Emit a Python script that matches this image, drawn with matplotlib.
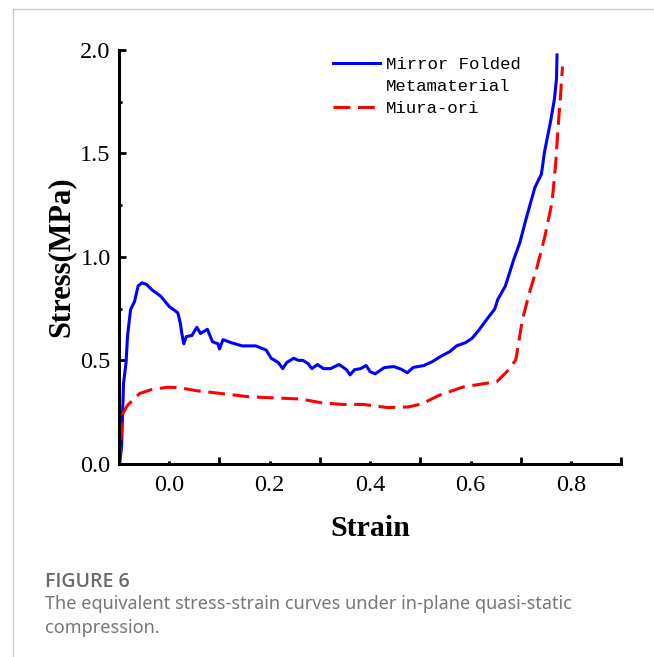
import matplotlib
matplotlib.use("Agg")
import matplotlib.pyplot as plt
from matplotlib.lines import Line2D
import numpy as np

plt.rcParams['font.family'] = ['Liberation Serif', 'DejaVu Serif']

# Mirror Folded Metamaterial (strain, stress MPa)
mirror_strain = [-0.099, -0.095, -0.091, -0.086, -0.083, -0.077, -0.069, -0.062, -0.054, -0.045,
                 -0.034, -0.017, 0.0, 0.017, 0.022, 0.025, 0.029, 0.034, 0.045, 0.055,
                 0.062, 0.076, 0.086, 0.097, 0.100, 0.107, 0.124, 0.145, 0.172, 0.193,
                 0.203, 0.217, 0.226, 0.234, 0.248, 0.257, 0.266, 0.276, 0.284, 0.295,
                 0.307, 0.321, 0.338, 0.353, 0.360, 0.369, 0.381, 0.392, 0.400, 0.410,
                 0.428, 0.447, 0.462, 0.474, 0.486, 0.507, 0.524, 0.541, 0.559, 0.572,
                 0.590, 0.603, 0.617, 0.634, 0.648, 0.654, 0.669, 0.686, 0.698, 0.710,
                 0.728, 0.741, 0.747, 0.759, 0.767, 0.771, 0.772]
mirror_stress = [0.0, 0.08, 0.39, 0.49, 0.62, 0.745, 0.785, 0.86, 0.875, 0.866,
                 0.84, 0.81, 0.76, 0.73, 0.68, 0.63, 0.58, 0.615, 0.62, 0.66,
                 0.63, 0.65, 0.59, 0.58, 0.555, 0.60, 0.585, 0.57, 0.57, 0.55,
                 0.51, 0.49, 0.46, 0.49, 0.51, 0.50, 0.50, 0.485, 0.46, 0.48,
                 0.46, 0.46, 0.48, 0.455, 0.43, 0.455, 0.46, 0.475, 0.445, 0.435,
                 0.465, 0.47, 0.457, 0.44, 0.466, 0.475, 0.494, 0.52, 0.543, 0.57,
                 0.586, 0.607, 0.648, 0.704, 0.748, 0.794, 0.858, 0.988, 1.069, 1.18,
                 1.336, 1.40, 1.506, 1.652, 1.765, 1.862, 1.976]

# Miura-ori
miura_strain = [-0.099, -0.097, -0.093, -0.083, -0.059, -0.034, -0.003, 0.021, 0.055, 0.103,
                0.159, 0.207, 0.262, 0.303, 0.345, 0.386, 0.434, 0.476, 0.503, 0.538,
                0.586, 0.652, 0.672, 0.690, 0.703, 0.717, 0.731, 0.748, 0.762, 0.769,
                0.774, 0.779, 0.783]
miura_stress = [0.0, 0.08, 0.24, 0.283, 0.34, 0.36, 0.37, 0.368, 0.353, 0.34,
                0.324, 0.319, 0.313, 0.295, 0.287, 0.287, 0.272, 0.275, 0.29, 0.332,
                0.372, 0.397, 0.445, 0.502, 0.696, 0.826, 0.939, 1.10, 1.263, 1.44,
                1.62, 1.78, 1.92]

xticks = [0.0, 0.2, 0.4, 0.6, 0.8]
yticks = [0.0, 0.5, 1.0, 1.5, 2.0]

fig = plt.figure(figsize=(6.54, 6.57), dpi=100)
ax = fig.add_axes([0.182, 0.294, 0.768, 0.630])

blue, = ax.plot(mirror_strain, mirror_stress, color='#0000ff', lw=2.2,
                label='Mirror Folded')
red, = ax.plot(miura_strain, miura_stress, color='#ff0000', lw=2.2,
               dashes=(5.5, 2.5), label='Miura-ori')

ax.set_xlim(-0.1, 0.9)
ax.set_ylim(0, 2.0)
ax.set_xticks(xticks)
ax.set_xticklabels(['%.1f' % v for v in xticks])
ax.set_xticks([0.1, 0.3, 0.5, 0.7, 0.9], minor=True)
ax.set_yticks(yticks)
ax.set_yticklabels(['%.1f' % v for v in yticks])
ax.set_yticks([0.25, 0.75, 1.25, 1.75], minor=True)

for s in ['top', 'right']:
    ax.spines[s].set_visible(False)
for s in ['left', 'bottom']:
    ax.spines[s].set_linewidth(2.2)

ax.tick_params(axis='x', which='major', direction='in', length=2, width=2.2,
               labelsize=17.5, pad=8)
ax.tick_params(axis='x', which='minor', direction='in', length=5, width=2)
ax.tick_params(axis='y', which='major', direction='in', length=5, width=2,
               labelsize=17.5, pad=6)
ax.tick_params(axis='y', which='minor', direction='in', length=2, width=2)

ax.set_xlabel('Strain', fontsize=21.5, fontweight='bold', labelpad=14)
ax.set_ylabel('Stress(MPa)', fontsize=22, fontweight='bold', labelpad=3)

blank = Line2D([], [], linestyle='none')
ax.legend([blue, blank, red], ['Mirror Folded', 'Metamaterial', 'Miura-ori'],
          loc='upper left', bbox_to_anchor=(0.426, 0.983), frameon=False,
          prop={'family': 'Liberation Mono', 'size': 12.5},
          handlelength=2.7, handletextpad=0.35, labelspacing=0.38,
          borderaxespad=0, borderpad=0)

# page frame and caption
fig.add_artist(Line2D([13 / 654, 1], [1 - 9 / 657, 1 - 9 / 657], color='#cccccc', lw=1))
fig.add_artist(Line2D([13 / 654, 13 / 654], [0, 1 - 9 / 657], color='#cccccc', lw=1))
fig.text(45 / 654, 1 - 587 / 657, 'FIGURE 6', family=['Open Sans', 'Noto Sans'],
         fontsize=14, fontweight='semibold', color='#6b6b6b', va='baseline')
fig.text(45 / 654, 1 - 609 / 657,
         'The equivalent stress-strain curves under in-plane quasi-static',
         family='Noto Sans', fontsize=13, color='#777777', va='baseline')
fig.text(45 / 654, 1 - 633 / 657, 'compression.', family='Noto Sans',
         fontsize=13, color='#777777', va='baseline')

fig.savefig('out.png', dpi=100)
